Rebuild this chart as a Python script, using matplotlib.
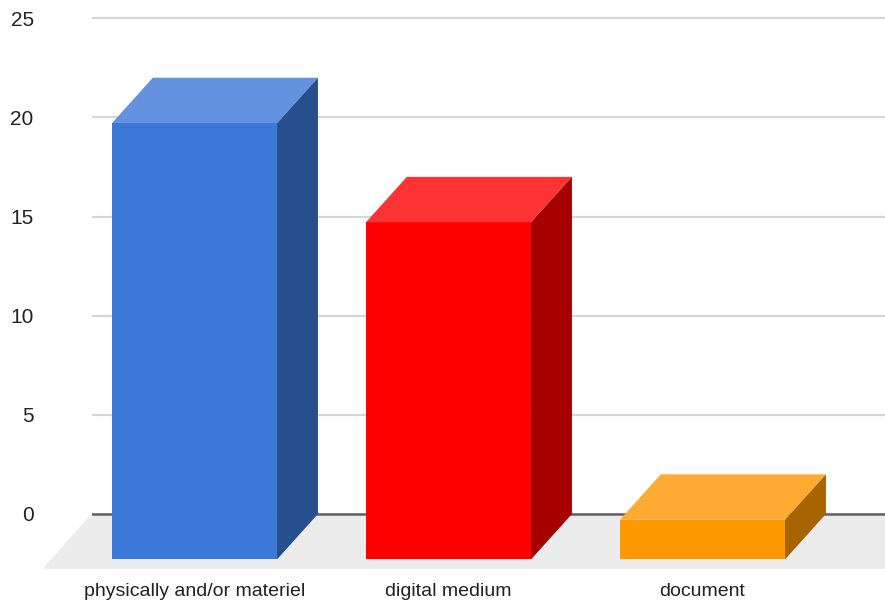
import matplotlib
matplotlib.use("Agg")
import matplotlib.pyplot as plt
from matplotlib.patches import Polygon
from matplotlib import font_manager

categories = ["physically and/or materiel", "digital medium", "document"]
values = [22, 17, 2]
front_colors = ["#3c78d8", "#ff0000", "#ff9900"]
top_colors = ["#6592e0", "#ff3333", "#ffaa33"]
side_colors = ["#274f8d", "#a60000", "#a86400"]
yticks = [0, 5, 10, 15, 20, 25]

# bar geometry in data units
bar_w = 0.65
dx, dy = 0.161, 2.29          # 3d depth offset of the bars
floor_dx, floor_dy = 0.185, 2.77

names = {f.name for f in font_manager.fontManager.ttflist}
label_font = "Liberation Sans Narrow" if "Liberation Sans Narrow" in names else "Liberation Sans"

fig = plt.figure(figsize=(8.85, 6.06), dpi=100)
ax = fig.add_axes([92 / 885, 0, 793 / 885, 1])
ax.set_xlim(-0.4035, 2.7185)
ax.set_ylim(-4.64, 25.92)
for s in ax.spines.values():
    s.set_visible(False)

# floor
x0, x1 = ax.get_xlim()
ax.add_patch(Polygon([(x0 - 0.01, -0.1), (x1 + 0.2, -0.1),
                      (x1 + 0.2 - floor_dx, -floor_dy), (x0 - 0.01 - floor_dx, -floor_dy)],
                     closed=True, facecolor="#ececec", edgecolor="none", zorder=0,
                     clip_on=False))

# gridlines and baseline
for t in yticks[1:]:
    ax.axhline(t, color="#d6d6d6", lw=1.6, zorder=1)
ax.axhline(0, color="#5f5f5f", lw=1.8, zorder=2)

for i, (v, fc, tc, sc) in enumerate(zip(values, front_colors, top_colors, side_colors)):
    l, r = i - bar_w / 2, i + bar_w / 2
    b, t = -dy, v - dy
    ax.add_patch(Polygon([(l, b), (r, b), (r, t), (l, t)], closed=True,
                         facecolor=fc, edgecolor="none", zorder=3))
    ax.add_patch(Polygon([(l, t), (l + dx, v), (r + dx, v), (r, t)], closed=True,
                         facecolor=tc, edgecolor="none", zorder=3))
    ax.add_patch(Polygon([(r, b), (r + dx, 0), (r + dx, v), (r, t)], closed=True,
                         facecolor=sc, edgecolor="none", zorder=3))
    ax.text(i, -3.9, categories[i], ha="center", va="center", fontsize=14,
            family=label_font, color="#222222")

ax.set_xticks([])
ax.set_yticks(yticks)
ax.set_yticklabels([str(t) for t in yticks], fontsize=15, family="Liberation Sans",
                   color="#222222")
ax.tick_params(axis="y", length=0, pad=42)

fig.savefig("out.png", dpi=100, facecolor="white")
